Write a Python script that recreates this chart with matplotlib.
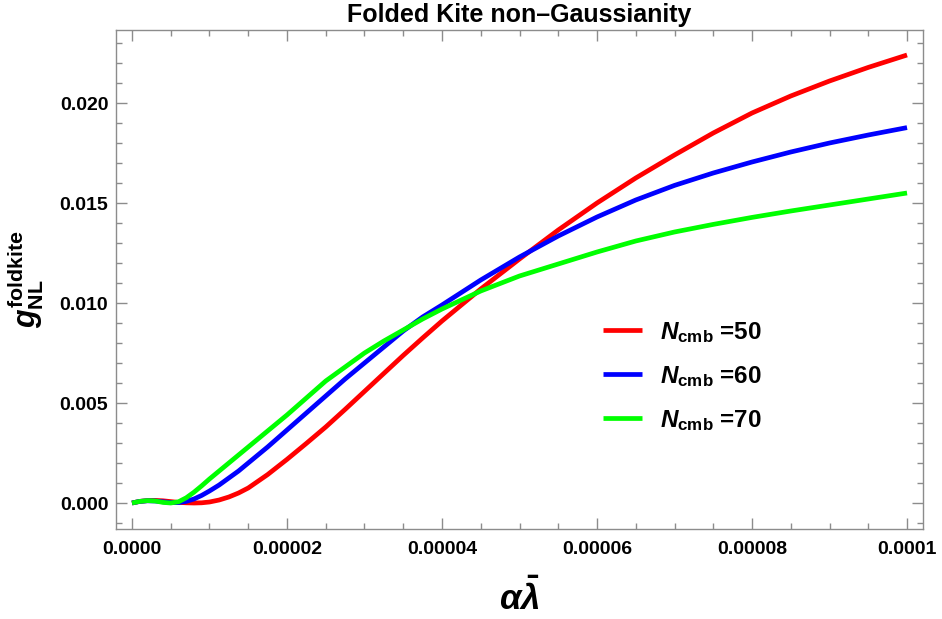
import matplotlib
matplotlib.use("Agg")
import matplotlib.pyplot as plt
from matplotlib.ticker import MultipleLocator, FixedLocator

plt.rcParams['font.family'] = ['Liberation Sans', 'DejaVu Sans']
plt.rcParams['mathtext.fontset'] = 'custom'
plt.rcParams['mathtext.rm'] = 'Liberation Sans:bold'
plt.rcParams['mathtext.bf'] = 'Liberation Sans:bold'
plt.rcParams['mathtext.it'] = 'Liberation Sans:bold:italic'
plt.rcParams['mathtext.sf'] = 'Liberation Sans:bold'

# ---- data (x = alpha*lambda_bar, in units of 1e-5) ----
x_red = [0, 0.1, 0.2, 0.3, 0.4, 0.5, 0.6, 0.7, 0.8, 0.9, 1.0, 1.125, 1.25, 1.375, 1.5,
         1.75, 2.0, 2.25, 2.5, 2.75, 3.0, 3.25, 3.5, 3.75, 4.0, 4.5, 5.0, 5.5, 6.0,
         6.5, 7.0, 7.5, 8.0, 8.5, 9.0, 9.5, 10.0]
y_red = [0, 0.00008, 0.00012, 0.00013, 0.00011, 0.00007, 0.00003, 0.00001, 0.0, 0.00001,
         0.00005, 0.00015, 0.0003, 0.0005, 0.00075, 0.00142, 0.00218, 0.00298, 0.0038,
         0.00468, 0.00558, 0.00648, 0.00738, 0.00825, 0.0091, 0.0107, 0.0122, 0.01365,
         0.0150, 0.01625, 0.0174, 0.0185, 0.0195, 0.02035, 0.0211, 0.02178, 0.0224]

x_blue = [0, 0.1, 0.2, 0.3, 0.4, 0.5, 0.6, 0.7, 0.8, 0.9, 1.0, 1.125, 1.25, 1.375, 1.5,
          1.75, 2.0, 2.25, 2.5, 2.75, 3.0, 3.25, 3.5, 3.75, 4.0, 4.5, 5.0, 5.5, 6.0,
          6.5, 7.0, 7.5, 8.0, 8.5, 9.0, 9.5, 10.0]
y_blue = [0, 0.00008, 0.00011, 0.0001, 0.00006, 0.00002, 0.00002, 0.00008, 0.0002,
          0.00038, 0.0006, 0.0009, 0.00125, 0.0016, 0.002, 0.0028, 0.00365, 0.0045,
          0.00535, 0.0062, 0.0070, 0.0078, 0.0086, 0.0093, 0.0099, 0.01115, 0.0123,
          0.01335, 0.0143, 0.01515, 0.01588, 0.0165, 0.01705, 0.01755, 0.018, 0.0184,
          0.01877]

x_green = [0, 0.1, 0.2, 0.3, 0.4, 0.5, 0.6, 0.7, 0.8, 0.9, 1.0, 1.125, 1.25, 1.375, 1.5,
           1.75, 2.0, 2.25, 2.5, 2.75, 3.0, 3.25, 3.5, 3.75, 4.0, 4.5, 5.0, 5.5, 6.0,
           6.5, 7.0, 7.5, 8.0, 8.5, 9.0, 9.5, 10.0]
y_green = [0, 0.00008, 0.00012, 0.0001, 0.00003, 0.0, 0.00006, 0.00026, 0.00054, 0.00086,
           0.0012, 0.0016, 0.002, 0.0024, 0.0028, 0.0036, 0.0044, 0.00525, 0.0061,
           0.0068, 0.0075, 0.0081, 0.00865, 0.0092, 0.0097, 0.0106, 0.01135, 0.01195,
           0.01255, 0.0131, 0.01355, 0.01393, 0.01428, 0.0146, 0.0149, 0.0152, 0.0155]

labels = [r'$N_{\mathrm{cmb}}$ =50', r'$N_{\mathrm{cmb}}$ =60', r'$N_{\mathrm{cmb}}$ =70']
colors = ['#ff0000', '#0000ff', '#00ff00']

x_ticks = [0, 2, 4, 6, 8, 10]
x_ticklabels = ['0.0000', '0.00002', '0.00004', '0.00006', '0.00008', '0.0001']
y_ticks = [0, 0.005, 0.010, 0.015, 0.020]
y_ticklabels = ['0.000', '0.005', '0.010', '0.015', '0.020']

fig = plt.figure(figsize=(9.42, 6.19), dpi=100)
W, H = 942, 619
left, right, top, bottom = 116, 923, 30, 529
ax = fig.add_axes([left / W, 1 - bottom / H, (right - left) / W, (bottom - top) / H])

for xs, ys, c, lab in zip([x_red, x_blue, x_green], [y_red, y_blue, y_green], colors, labels):
    ax.plot(xs, ys, color=c, lw=3.4, label=lab, solid_capstyle='butt', solid_joinstyle='round')

ax.set_xlim(-0.206, 10.206)
ax.set_ylim(-0.0013, 0.02365)

gray = '#8c8c8c'
for s in ax.spines.values():
    s.set_color(gray)
    s.set_linewidth(1.0)

ax.xaxis.set_major_locator(FixedLocator(x_ticks))
ax.set_xticklabels(x_ticklabels)
ax.xaxis.set_minor_locator(MultipleLocator(0.5))
ax.yaxis.set_major_locator(FixedLocator(y_ticks))
ax.set_yticklabels(y_ticklabels)
ax.yaxis.set_minor_locator(MultipleLocator(0.001))

ax.tick_params(which='both', direction='in', top=True, right=True, color=gray, width=1.0)
ax.tick_params(which='major', length=8)
ax.tick_params(which='minor', length=4.5)
ax.tick_params(axis='x', which='major', pad=9, labelsize=14, labelcolor='black')
ax.tick_params(axis='y', which='major', pad=5.5, labelsize=14, labelcolor='black')
for t in ax.get_xticklabels() + ax.get_yticklabels():
    t.set_fontweight('bold')

fig.text(519 / W, 1 - 15 / H, 'Folded Kite non\u2013Gaussianity',
         ha='center', va='center', fontsize=18, fontweight='bold')

fig.text(26 / W, 1 - 279 / H, r'$g_{\mathrm{NL}}^{\mathrm{foldkite}}$',
         rotation=90, ha='center', va='center', fontsize=22)

fig.text(519 / W, 1 - 598 / H, r'$\alpha\bar{\lambda}$',
         ha='center', va='center', fontsize=25)

leg = ax.legend(loc='upper left', bbox_to_anchor=(603 / W, 1 - 320 / H),
                bbox_transform=fig.transFigure, frameon=False, fontsize=17.5,
                handlelength=1.6, handletextpad=0.75, labelspacing=0.78,
                borderpad=0, borderaxespad=0)
for t in leg.get_texts():
    t.set_fontweight('bold')

fig.savefig('out.png', dpi=100)
